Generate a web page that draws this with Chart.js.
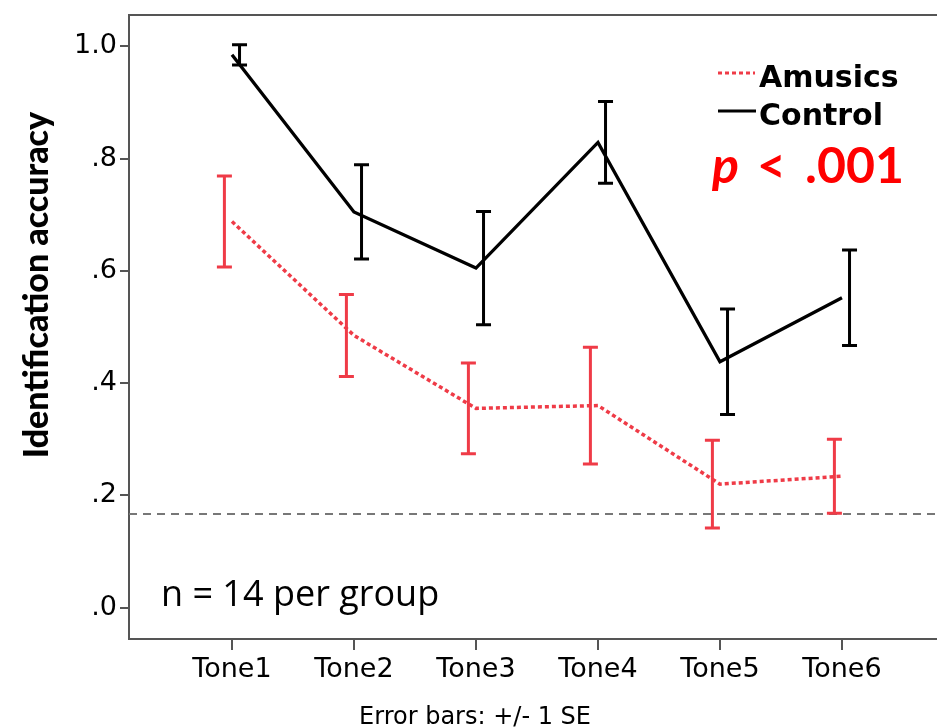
<!DOCTYPE html>
<html>
<head>
<meta charset="utf-8">
<script src="https://cdn.jsdelivr.net/npm/chart.js@4.4.1/dist/chart.umd.min.js"></script>
<style>
html, body { margin: 0; padding: 0; background: #fff; overflow: hidden; }
</style>
</head>
<body>
<canvas id="graficaTonos" width="937" height="727"></canvas>
<script>
// categorias y valores
const tonos = ["Tone1", "Tone2", "Tone3", "Tone4", "Tone5", "Tone6"];
const amusicsMedia = [0.688, 0.485, 0.355, 0.360, 0.220, 0.234];
const amusicsSE = [0.081, 0.073, 0.081, 0.104, 0.078, 0.066];
const controlMedia = [0.985, 0.705, 0.605, 0.829, 0.438, 0.552];
const controlSE = [0.018, 0.084, 0.101, 0.073, 0.094, 0.085];
const nivelAzar = 1 / 6;
const yTicks = [0, 0.2, 0.4, 0.6, 0.8, 1.0];
const yTickLabels = [".0", ".2", ".4", ".6", ".8", "1.0"];

const xMin = -0.844;
const xMax = 5.779;
const gris = "#555";
const rojo = "#ef3b47";

// barras de error +/- 1 SE, desplazadas un poco a cada lado
const barrasError = {
    id: "barrasError",
    afterDatasetsDraw(chart) {
        const ctx = chart.ctx;
        const sx = chart.scales.x;
        const sy = chart.scales.y;
        const grupos = [
            { media: amusicsMedia, se: amusicsSE, desp: -0.062, color: rojo },
            { media: controlMedia, se: controlSE, desp: 0.062, color: "#000" }
        ];
        ctx.save();
        ctx.lineWidth = 3;
        grupos.forEach(g => {
            ctx.strokeStyle = g.color;
            g.media.forEach((m, i) => {
                const px = sx.getPixelForValue(i + g.desp);
                const top = sy.getPixelForValue(m + g.se[i]);
                const bot = sy.getPixelForValue(m - g.se[i]);
                ctx.beginPath();
                ctx.moveTo(px, top);
                ctx.lineTo(px, bot);
                ctx.moveTo(px - 7.5, top);
                ctx.lineTo(px + 7.5, top);
                ctx.moveTo(px - 7.5, bot);
                ctx.lineTo(px + 7.5, bot);
                ctx.stroke();
            });
        });
        ctx.restore();
    }
};

// textos, leyenda y marco superior
const textos = {
    id: "textos",
    afterDraw(chart) {
        const ctx = chart.ctx;
        const area = chart.chartArea;
        ctx.save();

        // linea superior del marco
        ctx.strokeStyle = gris;
        ctx.lineWidth = 2;
        ctx.beginPath();
        ctx.moveTo(area.left - 1, area.top);
        ctx.lineTo(area.right, area.top);
        ctx.stroke();

        // titulo eje y
        ctx.save();
        ctx.translate(37, 285);
        ctx.rotate(-Math.PI / 2);
        ctx.fillStyle = "#000";
        ctx.font = "900 34px Lato";
        ctx.textAlign = "center";
        ctx.textBaseline = "middle";
        ctx.fillText("Identification accuracy", 0, 0);
        ctx.restore();

        // leyenda
        ctx.lineWidth = 3;
        ctx.strokeStyle = rojo;
        ctx.setLineDash([4, 3]);
        ctx.beginPath();
        ctx.moveTo(718, 73);
        ctx.lineTo(755, 73);
        ctx.stroke();
        ctx.setLineDash([]);
        ctx.strokeStyle = "#000";
        ctx.beginPath();
        ctx.moveTo(718, 111);
        ctx.lineTo(756, 111);
        ctx.stroke();

        ctx.fillStyle = "#000";
        ctx.font = "bold 30px 'DejaVu Sans'";
        ctx.textAlign = "left";
        ctx.textBaseline = "alphabetic";
        ctx.fillText("Amusics", 759, 87);
        ctx.fillText("Control", 759, 125);

        // p < .001
        ctx.fillStyle = "#ff0000";
        ctx.font = "italic bold 50px Lato";
        ctx.fillText("p", 712, 183);
        ctx.font = "bold 50px Lato";
        ctx.fillText("<", 757, 183);
        ctx.fillText(".001", 805, 183);

        // n por grupo
        ctx.fillStyle = "#000";
        ctx.font = "36px 'Open Sans'";
        ctx.fillText("n = 14 per group", 161, 606);

        // nota barras de error
        ctx.font = "24px 'DejaVu Sans'";
        ctx.textAlign = "center";
        ctx.fillText("Error bars: +/- 1 SE", 475, 724);

        ctx.restore();
    }
};

const ctx = document.getElementById("graficaTonos");

new Chart(ctx, {
    type: "line",
    data: {
        datasets: [
            {
                label: "Azar",
                data: [{ x: xMin, y: nivelAzar }, { x: xMax, y: nivelAzar }],
                borderColor: "#777",
                borderWidth: 2,
                borderDash: [8, 6],
                pointRadius: 0
            },
            {
                label: "Amusics",
                data: tonos.map((t, i) => ({ x: i, y: amusicsMedia[i] })),
                borderColor: rojo,
                borderWidth: 3.5,
                borderDash: [4, 3],
                pointRadius: 0
            },
            {
                label: "Control",
                data: tonos.map((t, i) => ({ x: i, y: controlMedia[i] })),
                borderColor: "#000",
                borderWidth: 3.3,
                pointRadius: 0
            }
        ]
    },
    options: {
        responsive: false,
        animation: false,
        layout: {
            padding: { top: 15, left: 0, right: 0, bottom: 0 }
        },
        plugins: {
            legend: { display: false },
            tooltip: { enabled: false }
        },
        scales: {
            x: {
                type: "linear",
                min: xMin,
                max: xMax,
                afterBuildTicks: s => {
                    s.ticks = tonos.map((t, i) => ({ value: i }));
                },
                afterFit: s => {
                    s.height = 88;
                    s.paddingLeft = 0;
                    s.paddingRight = 0;
                },
                ticks: {
                    callback: (v, i) => tonos[i],
                    autoSkip: false,
                    maxRotation: 0,
                    color: "#000",
                    padding: 4,
                    font: { family: "DejaVu Sans", size: 27 }
                },
                grid: {
                    drawOnChartArea: false,
                    tickLength: 11,
                    color: gris,
                    lineWidth: 2
                },
                border: { color: gris, width: 2 }
            },
            y: {
                min: -0.056,
                max: 1.056,
                afterBuildTicks: s => {
                    s.ticks = yTicks.map(v => ({ value: v }));
                },
                afterFit: s => {
                    s.width = 129;
                    s.paddingTop = 0;
                    s.paddingBottom = 0;
                },
                ticks: {
                    callback: (v, i) => yTickLabels[i],
                    color: "#000",
                    padding: 3,
                    font: { family: "DejaVu Sans", size: 27 }
                },
                grid: {
                    drawOnChartArea: false,
                    tickLength: 9,
                    color: gris,
                    lineWidth: 2
                },
                border: { color: gris, width: 2 }
            }
        }
    },
    plugins: [barrasError, textos]
});
</script>
</body>
</html>
